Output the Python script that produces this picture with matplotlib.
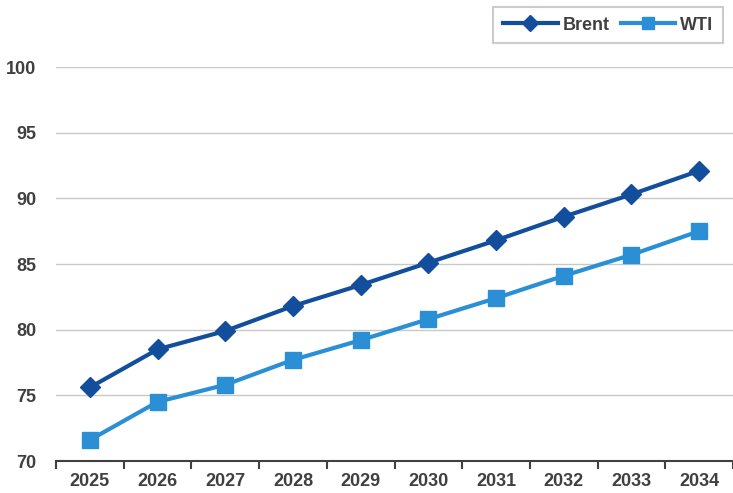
import matplotlib.pyplot as plt

years = ['2025', '2026', '2027', '2028', '2029', '2030', '2031', '2032', '2033', '2034']
brent = [75.6, 78.5, 79.9, 81.8, 83.4, 85.1, 86.8, 88.6, 90.3, 92.1]
wti = [71.6, 74.5, 75.8, 77.7, 79.2, 80.8, 82.4, 84.1, 85.7, 87.5]

brent_color = '#134E9C'
wti_color = '#2B8FD6'
text_color = '#404040'

fig = plt.figure(figsize=(7.33, 4.93), dpi=100)
ax = fig.add_axes([56 / 733, 32 / 493, 1 - 56 / 733, (461 - 67) / 493])

x = list(range(len(years)))
ax.plot(x, brent, color=brent_color, lw=3, marker='D', ms=10,
        label='Brent', zorder=3)
ax.plot(x, wti, color=wti_color, lw=3, marker='s', ms=11,
        label='WTI', zorder=3)

ax.set_xlim(-0.5, len(years) - 0.5)
ax.set_ylim(70, 100)
ax.set_yticks(range(70, 101, 5))
ax.yaxis.grid(True, color='#c8c8c8', lw=1)
ax.set_axisbelow(True)

ax.set_xticks(x)
ax.set_xticklabels(years)
ax.set_xticks([i - 0.5 for i in range(len(years) + 1)], minor=True)
ax.tick_params(axis='x', which='major', length=0, pad=9)
ax.tick_params(axis='x', which='minor', length=6, width=1.5, color='#404040')
ax.tick_params(axis='y', length=0, pad=14)
for lab in ax.get_xticklabels() + ax.get_yticklabels():
    lab.set_fontfamily('Liberation Sans')
    lab.set_fontweight('bold')
    lab.set_fontsize(13)
    lab.set_color(text_color)

for side in ['top', 'right', 'left']:
    ax.spines[side].set_visible(False)
ax.spines['bottom'].set_color('#404040')
ax.spines['bottom'].set_linewidth(1.5)

leg = fig.legend(loc='upper right', bbox_to_anchor=(727 / 733, 1 - 3 / 493),
                 ncol=2, frameon=True, fancybox=False, handlelength=3,
                 handletextpad=0.3, columnspacing=0.6, borderpad=0.55,
                 borderaxespad=0.2,
                 prop={'family': 'Liberation Sans', 'weight': 'bold', 'size': 13})
leg.get_frame().set_edgecolor('#c0c0c0')
leg.get_frame().set_linewidth(1.5)
for h in leg.legend_handles:
    h.set_markersize(8)
for t in leg.get_texts():
    t.set_color(text_color)

fig.savefig('out.png', dpi=100)
